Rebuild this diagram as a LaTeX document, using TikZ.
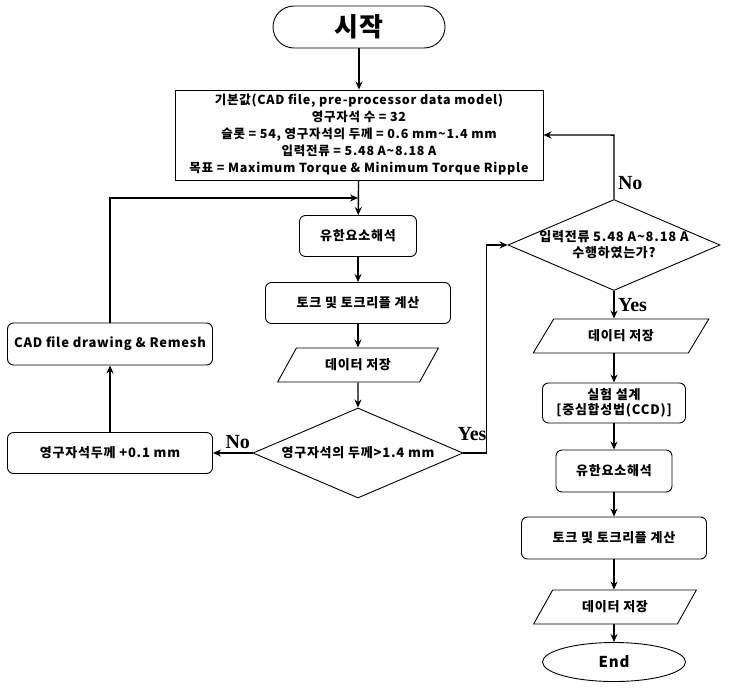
\documentclass[tikz,border=0pt]{standalone}
\usepackage{fontspec}
\setmainfont{Noto Sans CJK KR}[LetterSpace=6]
\newfontfamily\ynfont{Liberation Serif}
\usetikzlibrary{shapes.geometric,arrows.meta}

\begin{document}
\begin{tikzpicture}[>={Stealth[length=8pt,width=7pt]},x=1pt,y=-1pt,
    box/.style={draw,line width=0.9pt,rounded corners=6pt,align=center,inner sep=2pt,
      font=\bfseries\fontsize{13}{15}\selectfont},
    iobox/.style={draw,line width=0.9pt,trapezium,trapezium left angle=54,
      trapezium right angle=126,trapezium stretches=true,minimum height=34pt,inner sep=1pt,
      font=\bfseries\fontsize{13}{15}\selectfont},
    decide/.style={draw,line width=0.9pt,diamond,inner sep=0pt},
    dtext/.style={align=center,font=\bfseries\fontsize{13}{16}\selectfont},
    yn/.style={font=\ynfont\bfseries\fontsize{20}{20}\selectfont},
    flow/.style={->,line width=1.4pt}]
  \useasboundingbox (0,0) rectangle (730,688);

  % left column
  \node[draw,line width=0.9pt,rounded corners=21pt,minimum width=172pt,minimum height=42pt,
    font=\bfseries\fontsize{26}{26}\selectfont] (start) at (359,27) {시작};
  \node[draw,line width=0.9pt,minimum width=368pt,minimum height=90pt,align=center,
    font=\bfseries\fontsize{12.5}{17}\selectfont] (init) at (359,135)
    {기본값(CAD file, pre-processor data model)\\영구자석 수 = 32\\
     슬롯 = 54, 영구자석의 두께 = 0.6 mm\textasciitilde 1.4 mm\\
     입력전류 = 5.48 A\textasciitilde 8.18 A\\
     목표 = Maximum Torque \& Minimum Torque Ripple};
  \node[box,minimum width=117pt,minimum height=41pt] (fea1) at (358,236) {유한요소해석};
  \node[box,minimum width=185pt,minimum height=41pt] (trq1) at (358,303) {토크 및 토크리플 계산};
  \node[iobox,minimum width=162pt] (dat1) at (358,365) {데이터 저장};
  \node[decide,minimum width=210pt,minimum height=90pt,
    label={[dtext]center:영구자석의 두께>1.4 mm}] (chk1) at (358,453) {};
  \node[box,minimum width=205pt,minimum height=41pt] (thk) at (110,453) {영구자석두께 +0.1 mm};
  \node[box,minimum width=205pt,minimum height=42pt] (cad) at (110,344) {CAD file drawing \& Remesh};
  \coordinate (jn) at (358,198);

  % right column
  \node[decide,minimum width=212pt,minimum height=91pt,
    label={[dtext]center:입력전류 5.48 A\textasciitilde 8.18 A\\수행하였는가?}] (chk2) at (614,245) {};
  \node[iobox,minimum width=177pt] (dat2) at (621,336) {데이터 저장};
  \node[box,minimum width=143pt,minimum height=40pt] (exp) at (614,403) {실험 설계\\{}[중심합성법(CCD)]};
  \node[box,minimum width=116pt,minimum height=42pt] (fea2) at (614,471) {유한요소해석};
  \node[box,minimum width=185pt,minimum height=42pt] (trq2) at (614,538) {토크 및 토크리플 계산};
  \node[iobox,minimum width=164pt] (dat3) at (615,607) {데이터 저장};
  \node[draw,line width=0.9pt,ellipse,minimum width=143pt,minimum height=39pt,
    font=\bfseries\fontsize{15}{15}\selectfont] (end) at (614,662) {End};

  \path[flow]
    (start) edge (init)
    (init) edge (fea1)
    (fea1) edge (trq1)
    (trq1) edge (dat1)
    (dat1) edge (chk1)
    (thk) edge (cad)
    (exp) edge (fea2)
    (fea2) edge (trq2)
    (trq2.south) edge (trq2.south |- dat3.north)
    (dat3.south -| end.north) edge (end);
  \draw[flow] (chk1.west) -- node[yn,above,xshift=5pt] {No} (thk.east);
  \draw[flow] (cad.north) |- (jn);
  \draw[flow] (chk1.east) -- node[yn,above left,xshift=4pt,yshift=8pt,pos=1] {Yes} ++(23,0) |- (chk2.west);
  \draw[flow] (chk2.north) -- node[yn,right,pos=0.25] {No} ++(0,-64) -- (init.east);
  \draw[flow] (chk2.south) -- node[yn,right,pos=0.5] {Yes} (chk2.south |- dat2.north);
  \draw[flow] (dat2.south -| exp.north) -- (exp.north);
\end{tikzpicture}
\end{document}
